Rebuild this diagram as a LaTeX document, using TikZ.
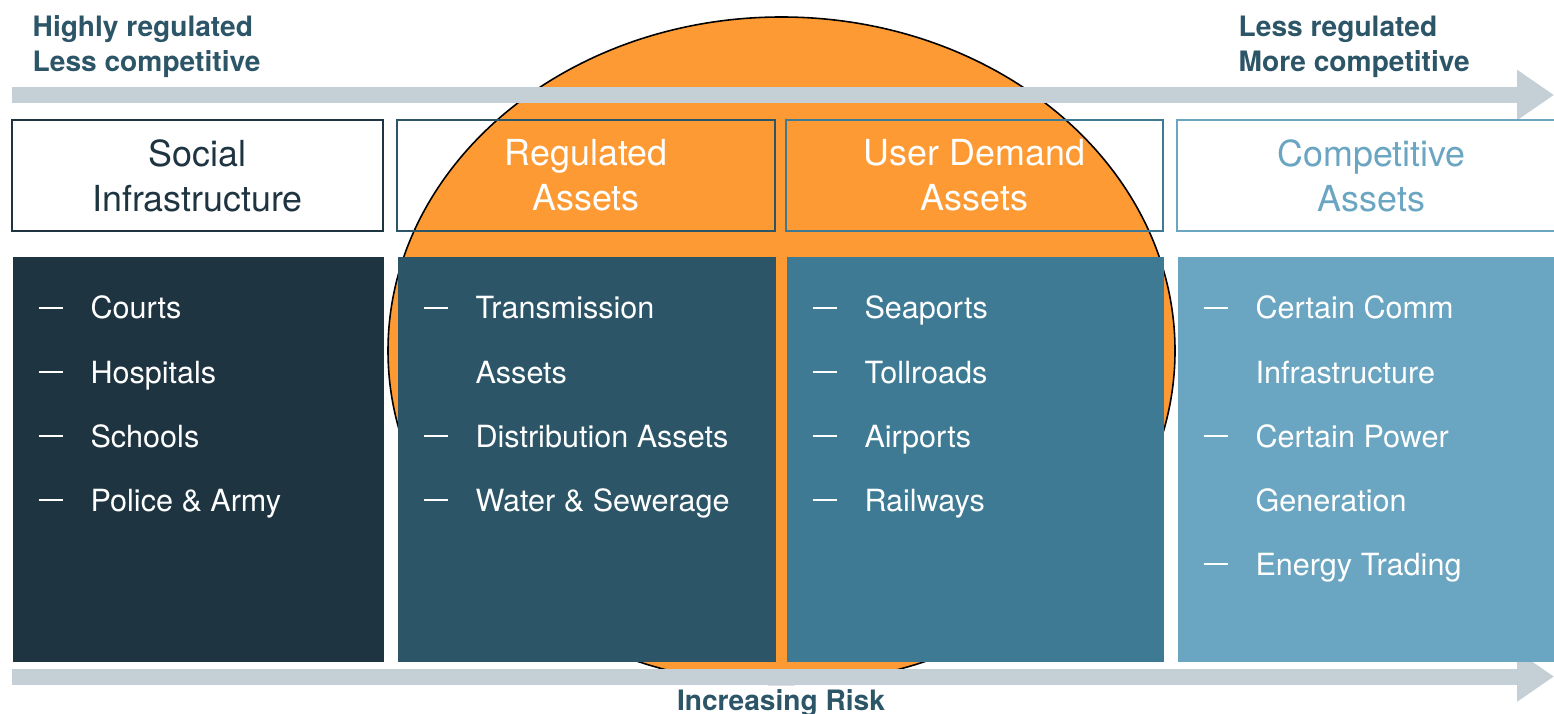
\documentclass[tikz,border=0pt]{standalone}
\usepackage{fontspec}
\setmainfont{TeX Gyre Heros}
\usetikzlibrary{arrows.meta,positioning}

\definecolor{socialcol}{HTML}{1E3441}
\definecolor{regcol}{HTML}{2C5568}
\definecolor{usercol}{HTML}{3E7A93}
\definecolor{compcol}{HTML}{6AA5C1}
\definecolor{blob}{HTML}{FD9A34}
\definecolor{arrowgrey}{HTML}{C5D0D6}

% dash in front of each list entry
\newcommand{\itemdash}{\rule[2.85pt]{6.8pt}{0.45pt}}
\newcommand{\itemlist}[1]{\begin{tabular}[t]{@{}l@{\hspace{7.95pt}}l@{}}#1\end{tabular}}

\begin{document}
\begin{tikzpicture}[
    head/.style={draw, minimum height=1.11cm, inner sep=0, align=center,
      font=\fontsize{10.2}{12.8}\selectfont},
    body/.style={minimum height=4.05cm, inner sep=0, anchor=north west},
    items/.style={anchor=base west, inner sep=0, text=white,
      font=\fontsize{8.7}{18.21}\selectfont},
    side/.style={inner sep=0, align=left, text=regcol,
      font=\bfseries\fontsize{8}{10}\selectfont},
    bar/.style={line width=0.16cm, arrowgrey, -{Triangle[width=0.48cm,length=0.37cm]}}
  ]
	\useasboundingbox (0,0) rectangle (15.54,7.13);
	\clip (0,0) rectangle (15.54,7.13);

	% orange blob behind the middle columns
	\filldraw[fill=blob, draw=black, line width=0.45pt] (7.815,3.623) ellipse [x radius=3.935cm, y radius=3.337cm];

	% the two grey arrows
	\coordinate (topL) at (0.12,6.18);
	\coordinate (topR) at (15.54,6.18);
	\coordinate (riskL) at (0.12,0.365);
	\coordinate (riskR) at (15.54,0.365);
	\draw[bar] (topL) -- (topR);
	\draw[bar] (riskL) -- (riskR);

	% column headers
	\node[head, draw=socialcol, text=socialcol, minimum width=3.71cm] (hsocial) at (1.975,5.375) {Social\\Infrastructure};
	\node[head, draw=regcol, text=white, minimum width=3.78cm] (hreg) at (5.86,5.375) {Regulated\\Assets};
	\node[head, draw=usercol, text=white, minimum width=3.77cm] (huser) at (9.745,5.375) {User Demand\\Assets};
	\node[head, draw=compcol, text=compcol, minimum width=3.89cm] (hcomp) at (13.715,5.375) {Competitive\\Assets};

	% column bodies
	\node[body, fill=socialcol, minimum width=3.71cm] (bsocial) at (0.12,4.57) {};
	\node[body, fill=regcol, minimum width=3.78cm] (breg) at (3.97,4.57) {};
	\node[body, fill=usercol, minimum width=3.77cm] (buser) at (7.86,4.57) {};
	\node[body, fill=compcol, minimum width=3.89cm] (bcomp) at (11.77,4.57) {};

	% lists
	\node[items] (lsocial) at (0.38,3.94) {\itemlist{\itemdash & Courts\\ \itemdash & Hospitals\\ \itemdash & Schools\\ \itemdash & Police \& Army}};
	\node[items] (lreg) at (4.23,3.94) {\itemlist{\itemdash & Transmission\\ & Assets\\ \itemdash & Distribution Assets\\ \itemdash & Water \& Sewerage}};
	\node[items] (luser) at (8.12,3.94) {\itemlist{\itemdash & Seaports\\ \itemdash & Tollroads\\ \itemdash & Airports\\ \itemdash & Railways}};
	\node[items] (lcomp) at (12.03,3.94) {\itemlist{\itemdash & Certain Comm\\ & Infrastructure\\ \itemdash & Certain Power\\ & Generation\\ \itemdash & Energy Trading}};

	% labels along the arrows
	\node[side, anchor=north west] (regulated) at (0.32,6.98) {Highly regulated\\Less competitive};
	\node[side, anchor=north west] (competitive) at (12.38,6.98) {Less regulated\\More competitive};
	\node[side, anchor=base] (risk) at (7.81,0.03) {Increasing Risk};
\end{tikzpicture}
\end{document}
